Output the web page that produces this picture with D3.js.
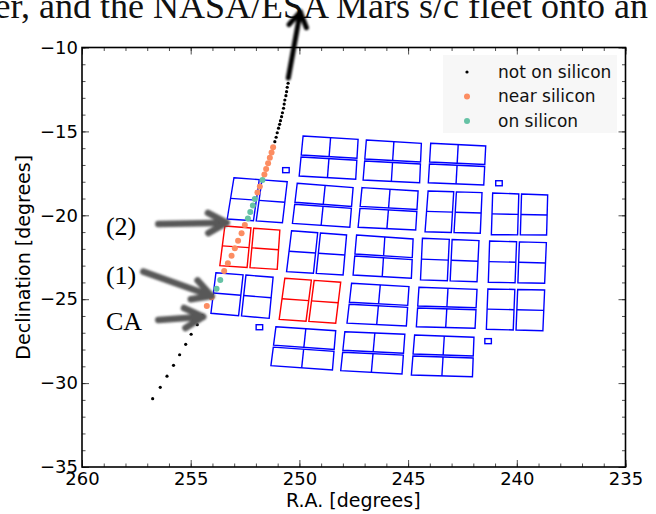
<!DOCTYPE html>
<html>
<head>
<meta charset="utf-8">
<script src="https://cdn.jsdelivr.net/npm/d3@7"></script>
<style>
body { margin: 0; background: #fff; }
svg { display: block; }
</style>
</head>
<body>
<script>
let w = 656;
let h = 514;

// comet path, one point per step, from the bottom up
const trajRA = [256.75, 256.40, 256.09, 255.79, 255.51, 255.23, 254.98, 254.70, 254.48,
  254.26, 254.04, 253.81, 253.64, 253.46, 253.29, 253.12, 252.97, 252.82, 252.66, 252.51,
  252.37, 252.26, 252.14, 252.05, 251.93, 251.82, 251.70, 251.61, 251.53, 251.44, 251.36, 251.28, 251.21,
  251.13, 251.07, 251.02, 250.96, 250.91, 250.87, 250.82, 250.78, 250.73, 250.70, 250.67, 250.62, 250.59, 250.56, 250.52];
const trajDec = [-30.93, -30.25, -29.59, -28.94, -28.31, -27.69, -27.09, -26.52, -25.97,
  -25.40, -24.89, -24.37, -23.85, -23.32, -22.86, -22.41, -21.97, -21.51, -21.07, -20.58,
  -20.19, -19.80, -19.42, -19.03, -18.64, -18.28, -17.90, -17.57, -17.24, -16.90, -16.57, -16.25, -15.95,
  -15.61, -15.35, -15.08, -14.81, -14.58, -14.36, -14.12, -13.89, -13.62, -13.37, -13.13, -12.87, -12.63, -12.37, -12.13];
// 0 = not on silicon, 1 = near silicon, 2 = on silicon
const trajStatus = [0, 0, 0, 0, 0, 0, 0, 0, 0,
  1, 1, 2, 2, 1, 1, 1, 1, 1, 1, 1,
  2, 2, 2, 2, 1, 1, 2, 1, 1, 1, 1, 1, 1,
  0, 0, 0, 0, 0, 0, 0, 0, 0, 0, 0, 0, 0, 0, 0];

const legendLabels = ["not on silicon", "near silicon", "on silicon"];

// module corners [RA, Dec]: top-left, top-right, bottom-right, bottom-left
const moduleCorners = [
  [[249.83, -15.27], [247.30, -15.47], [247.41, -17.85], [250.01, -17.66]],
  [[246.92, -15.51], [244.39, -15.71], [244.47, -18.06], [247.07, -17.90]],
  [[243.96, -15.71], [241.43, -15.87], [241.52, -18.19], [244.07, -18.06]],
  [[253.01, -17.76], [250.56, -18.00], [250.78, -20.44], [253.32, -20.22]],
  [[250.10, -18.09], [247.53, -18.35], [247.68, -20.71], [250.32, -20.48]],
  [[247.12, -18.35], [244.54, -18.55], [244.65, -20.88], [247.30, -20.71]],
  [[244.08, -18.55], [241.60, -18.65], [241.68, -21.07], [244.22, -20.98]],
  [[241.11, -18.67], [238.58, -18.79], [238.63, -21.17], [241.17, -21.16]],
  [[253.43, -20.64], [250.90, -20.88], [251.02, -23.22], [253.66, -23.00]],
  [[250.36, -20.92], [247.83, -21.17], [247.99, -23.56], [250.59, -23.36]],
  [[247.37, -21.17], [244.77, -21.41], [244.85, -23.75], [247.53, -23.56]],
  [[244.34, -21.37], [241.74, -21.51], [241.83, -23.96], [244.43, -23.85]],
  [[241.25, -21.53], [238.64, -21.63], [238.72, -24.05], [241.31, -23.99]],
  [[253.84, -23.42], [251.21, -23.69], [251.39, -26.14], [254.07, -25.84]],
  [[250.67, -23.75], [248.10, -23.99], [248.33, -26.43], [250.93, -26.20]],
  [[247.60, -24.05], [244.96, -24.25], [245.08, -26.60], [247.81, -26.43]],
  [[244.50, -24.29], [241.83, -24.41], [241.92, -26.73], [244.62, -26.64]],
  [[241.33, -24.39], [238.72, -24.45], [238.80, -26.88], [241.40, -26.79]],
  [[251.08, -26.64], [248.33, -26.88], [248.48, -29.22], [251.31, -28.96]],
  [[247.91, -26.94], [245.15, -27.09], [245.28, -29.46], [248.10, -29.26]],
  [[244.70, -27.13], [241.97, -27.27], [242.04, -29.62], [244.85, -29.52]],
];
// h = the two CCDs are stacked, v = side by side
const moduleSplit = ["h", "h", "h", "v", "h", "h", "v", "v", "v", "v", "h", "v", "v",
  "v", "v", "h", "h", "v", "h", "h", "h"];
// modules the comet sits on at (2) and (1)
const moduleRed = [8, 14];

// fine guidance sensors
const fgsRA = [250.62, 240.82, 251.84, 241.32];
const fgsDec = [-17.31, -18.09, -26.67, -27.50];
const fgsSize = 0.3;

// gray annotation arrows
const annoText = ["(2)", "(1)", "CA"];
const annoTextRA = [258.9, 258.9, 258.9];
const annoTextDec = [-20.68, -23.56, -26.34];
const annoFromRA = [256.49, 257.18, 256.49];
const annoFromDec = [-20.52, -23.36, -26.24];
const annoToRA = [253.35, 254.04, 254.43];
const annoToDec = [-20.44, -24.81, -26.04];

// thick black arrow leaving the top of the plot
const outArrow = [[250.51, -11.82], [249.96, -7.88]];

const xMajor = [260, 255, 250, 245, 240, 235];
const yMajor = [-10, -15, -20, -25, -30, -35];
const xMinor = d3.range(235, 261, 1);
const yMinor = d3.range(-35, -9, 1);

const colors = ["black", "#fc8d62", "#66c2a5"];
const radius = [1.6, 3, 3];

let pLeft = 82, pRight = 625.5, pTop = 47.5, pBottom = 467;

let x = d3.scaleLinear().domain([260, 235]).range([pLeft, pRight]);
let y = d3.scaleLinear().domain([-10, -35]).range([pTop, pBottom]);

let svg = d3.select("body").append("svg").attr("width", w).attr("height", h);

let defs = svg.append("defs");
defs.append("filter").attr("id", "soft")
  .attr("x", "-20%").attr("y", "-20%").attr("width", "140%").attr("height", "140%")
  .append("feGaussianBlur").attr("stdDeviation", 0.8);
defs.append("clipPath").attr("id", "plotclip")
  .append("rect").attr("x", pLeft).attr("y", pTop)
  .attr("width", pRight - pLeft).attr("height", pBottom - pTop);

// paper text cut off at the top
svg.append("text")
  .text("er, and the NASA/ESA Mars s/c fleet onto an")
  .attr("x", 648).attr("y", 18)
  .attr("text-anchor", "end")
  .attr("font-family", "Liberation Serif, Times New Roman, serif")
  .attr("font-size", "36px")
  .attr("fill", "#111");

// axes
function tickAxis(axis, vals, size) {
  return axis.tickValues(vals).tickSizeInner(size).tickSizeOuter(0);
}
function styleTicks(g) {
  g.select(".domain").remove();
  g.selectAll(".tick line").attr("stroke", "#222").attr("stroke-width", 0.8);
  g.selectAll("text").attr("font-family", "DejaVu Sans, sans-serif")
    .attr("font-size", "18px").attr("fill", "#000");
}
let fmt = function (d) { return String(d).replace("-", "\u2212"); };

svg.append("g").attr("transform", "translate(0," + pBottom + ")")
  .call(tickAxis(d3.axisBottom(x), xMinor, -3.5).tickFormat(""))
  .call(styleTicks);
svg.append("g").attr("transform", "translate(0," + pBottom + ")")
  .call(tickAxis(d3.axisBottom(x), xMajor, -7).tickPadding(5).tickFormat(fmt))
  .call(styleTicks);
svg.append("g").attr("transform", "translate(0," + pTop + ")")
  .call(tickAxis(d3.axisTop(x), xMinor, -3.5).tickFormat(""))
  .call(styleTicks);
svg.append("g").attr("transform", "translate(0," + pTop + ")")
  .call(tickAxis(d3.axisTop(x), xMajor, -7).tickFormat(""))
  .call(styleTicks);
svg.append("g").attr("transform", "translate(" + pLeft + ",0)")
  .call(tickAxis(d3.axisLeft(y), yMinor, -3.5).tickFormat(""))
  .call(styleTicks);
svg.append("g").attr("transform", "translate(" + pLeft + ",0)")
  .call(tickAxis(d3.axisLeft(y), yMajor, -7).tickPadding(4).tickFormat(fmt))
  .call(styleTicks);
svg.append("g").attr("transform", "translate(" + pRight + ",0)")
  .call(tickAxis(d3.axisRight(y), yMinor, -3.5).tickFormat(""))
  .call(styleTicks);
svg.append("g").attr("transform", "translate(" + pRight + ",0)")
  .call(tickAxis(d3.axisRight(y), yMajor, -7).tickFormat(""))
  .call(styleTicks);

svg.append("text").text("R.A. [degrees]")
  .attr("x", (pLeft + pRight) / 2 - 0.5).attr("y", 507)
  .attr("text-anchor", "middle")
  .attr("font-family", "DejaVu Sans, sans-serif").attr("font-size", "19px");
svg.append("text").text("Declination [degrees]")
  .attr("transform", "translate(30," + (pTop + pBottom) / 2 + ") rotate(-90)")
  .attr("text-anchor", "middle")
  .attr("font-family", "DejaVu Sans, sans-serif").attr("font-size", "19px");

let plot = svg.append("g").attr("clip-path", "url(#plotclip)");

// legend
let legend = plot.append("g");
legend.append("rect").attr("x", 443).attr("y", 55).attr("width", 174).attr("height", 78)
  .attr("fill", "#f7f7f7");
legendLabels.forEach(function (lab, i) {
  let ly = 72 + i * 24.5;
  legend.append("circle").attr("cx", 467).attr("cy", ly).attr("r", radius[i]).attr("fill", colors[i]);
  legend.append("text").text(lab).attr("x", 498).attr("y", ly).attr("dy", "0.35em")
    .attr("font-family", "DejaVu Sans, sans-serif").attr("font-size", "17px").attr("fill", "#111");
});

// focal plane modules
function bilerp(c, u, v) {
  let px = c.map(function (p) { return [x(p[0]), y(p[1])]; });
  return [
    (1 - u) * (1 - v) * px[0][0] + u * (1 - v) * px[1][0] + u * v * px[2][0] + (1 - u) * v * px[3][0],
    (1 - u) * (1 - v) * px[0][1] + u * (1 - v) * px[1][1] + u * v * px[2][1] + (1 - u) * v * px[3][1],
  ];
}
let gap = 0.025;
let line = d3.line();
moduleCorners.forEach(function (c, i) {
  let col = moduleRed.indexOf(i) >= 0 ? "#ff0000" : "#0000ff";
  let parts = [[0, 0.5 - gap], [0.5 + gap, 1]];
  parts.forEach(function (pr) {
    let a = pr[0], b = pr[1];
    let outline, mid;
    if (moduleSplit[i] === "h") {
      outline = [bilerp(c, 0, a), bilerp(c, 1, a), bilerp(c, 1, b), bilerp(c, 0, b)];
      mid = [bilerp(c, 0.5, a), bilerp(c, 0.5, b)];
    } else {
      outline = [bilerp(c, a, 0), bilerp(c, b, 0), bilerp(c, b, 1), bilerp(c, a, 1)];
      mid = [bilerp(c, a, 0.5), bilerp(c, b, 0.5)];
    }
    plot.append("path").attr("d", line(outline) + "Z")
      .attr("fill", "none").attr("stroke", col).attr("stroke-width", 1.4);
    plot.append("path").attr("d", line(mid))
      .attr("fill", "none").attr("stroke", col).attr("stroke-width", 1.4);
  });
});

plot.selectAll(".fgs")
  .data(fgsRA)
  .enter()
  .append("rect")
  .attr("x", function (d) { return x(d + fgsSize / 2); })
  .attr("y", function (d, i) { return y(fgsDec[i] + fgsSize / 2); })
  .attr("width", function (d) { return x(d - fgsSize / 2) - x(d + fgsSize / 2); })
  .attr("height", function (d, i) { return y(fgsDec[i] - fgsSize / 2) - y(fgsDec[i] + fgsSize / 2); })
  .attr("fill", "none").attr("stroke", "#0000ff").attr("stroke-width", 1.4);

// comet points, one series per status
let pts = trajRA.map(function (ra, i) { return { ra: ra, dec: trajDec[i], s: trajStatus[i] }; });
[0, 1, 2].forEach(function (s) {
  plot.selectAll(".p" + s)
    .data(pts.filter(function (d) { return d.s === s; }))
    .enter()
    .append("circle")
    .attr("cx", function (d) { return x(d.ra); })
    .attr("cy", function (d) { return y(d.dec); })
    .attr("r", radius[s])
    .attr("fill", colors[s]);
});

// frame
svg.append("rect").attr("x", pLeft).attr("y", pTop)
  .attr("width", pRight - pLeft).attr("height", pBottom - pTop)
  .attr("fill", "none").attr("stroke", "#000").attr("stroke-width", 1.6);

// arrows
function arrow(x1, y1, x2, y2, color, width, headLen, headAng) {
  let a = Math.atan2(y2 - y1, x2 - x1);
  let g = svg.append("g").attr("filter", "url(#soft)");
  g.append("line").attr("x1", x1).attr("y1", y1).attr("x2", x2).attr("y2", y2)
    .attr("stroke", color).attr("stroke-width", width).attr("stroke-linecap", "round");
  let p1 = [x2 - headLen * Math.cos(a - headAng), y2 - headLen * Math.sin(a - headAng)];
  let p2 = [x2 - headLen * Math.cos(a + headAng), y2 - headLen * Math.sin(a + headAng)];
  g.append("path").attr("d", line([p1, [x2, y2], p2]))
    .attr("fill", "none").attr("stroke", color).attr("stroke-width", width)
    .attr("stroke-linecap", "round").attr("stroke-linejoin", "round");
}

annoText.forEach(function (t, i) {
  arrow(x(annoFromRA[i]), y(annoFromDec[i]), x(annoToRA[i]), y(annoToDec[i]), "#585858", 6.5, 21, 0.5);
  svg.append("text").text(t)
    .attr("x", x(annoTextRA[i])).attr("y", y(annoTextDec[i])).attr("dy", "0.33em")
    .attr("font-family", "Liberation Serif, Times New Roman, serif")
    .attr("font-size", "26px").attr("fill", "#000");
});

arrow(x(outArrow[0][0]), y(outArrow[0][1]), x(outArrow[1][0]), y(outArrow[1][1]), "#000", 5, 17, 0.55);
</script>
</body>
</html>
